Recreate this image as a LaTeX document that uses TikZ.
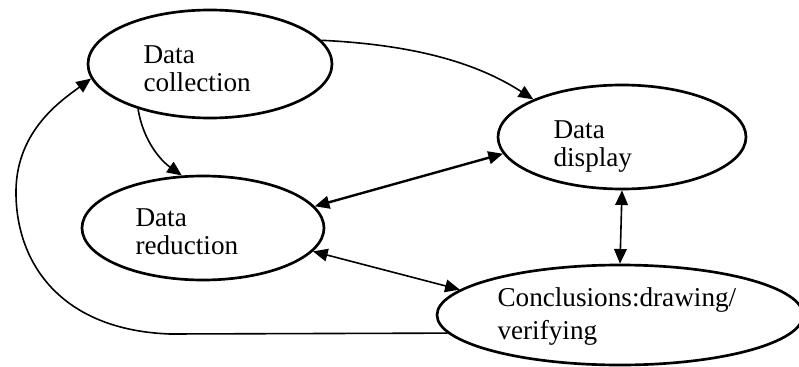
\documentclass[tikz,border=0pt]{standalone}
\usepackage{fontspec}
\setmainfont{Liberation Serif}
\usetikzlibrary{shapes.geometric,arrows.meta}

\tikzset{every picture/.style={line width=0.75pt}}
\tikzset{
	stage/.style={draw, ellipse, line width=2pt, inner sep=0pt},
	stagetext/.style={anchor=north west, inner sep=0pt, align=left, font=\fontsize{20.4}{21}\selectfont},
	flow/.style={line width=1.2pt, -{Triangle[length=11pt,width=9.5pt]}},
	twoway/.style={line width=1.2pt, {Triangle[length=11pt,width=9.5pt]}-{Triangle[length=11pt,width=9.5pt]}}
}

\begin{document}
\begin{tikzpicture}[x=0.75pt,y=0.75pt,yscale=-1,xscale=1]
	\useasboundingbox (0,0) rectangle (799,367);
	
	%Shape: Ellipse [id:collection] 
	\node [stage, minimum width=183pt, minimum height=81pt] (coll) at (210,64) {};
	%Shape: Ellipse [id:display] 
	\node [stage, minimum width=186pt, minimum height=78pt] (disp) at (622,137) {};
	%Shape: Ellipse [id:reduction] 
	\node [stage, minimum width=181.5pt, minimum height=78pt] (redu) at (203,228) {};
	%Shape: Ellipse [id:conclusions] 
	\node [stage, minimum width=274.5pt, minimum height=75pt] (concl) at (620,315) {};
	
	% Text Node
	\node [stagetext] (collT) at (143,45) {Data\\collection};
	% Text Node
	\node [stagetext] (dispT) at (553,120) {Data\\display};
	% Text Node
	\node [stagetext] (reduT) at (135,208) {Data\\reduction};
	% Text Node
	\node [stagetext, font=\fontsize{20.4}{24.75}\selectfont] (conclT) at (497,287) {Conclusions:drawing/\\verifying};
	
	%Curve Lines [id:collection to display] 
	\draw [flow] (coll.12) .. controls (420,45) and (480,65) .. (disp.157);
	%Curve Lines [id:collection to reduction] 
	\draw [flow] (coll.212) .. controls (143,140) and (160,160) .. (redu.112);
	%Straight Lines [id:display and reduction] 
	\draw [twoway, line width=1.8pt] (redu.11) -- (disp.188);
	%Straight Lines [id:display and conclusions] 
	\draw [twoway] (disp.south) -- (concl.north);
	%Straight Lines [id:reduction and conclusions] 
	\draw [twoway] (redu.-12) -- (concl.171);
	%Curve Lines [id:conclusions back to collection] 
	\coordinate (loopB) at (170,334);
	\coordinate (loopL) at (16,190);
	\draw [flow] (concl.186) -- (loopB) .. controls (60,330) and (15,262) .. (loopL) .. controls (17,130) and (62,100) .. (coll.187);
	
\end{tikzpicture}
\end{document}
